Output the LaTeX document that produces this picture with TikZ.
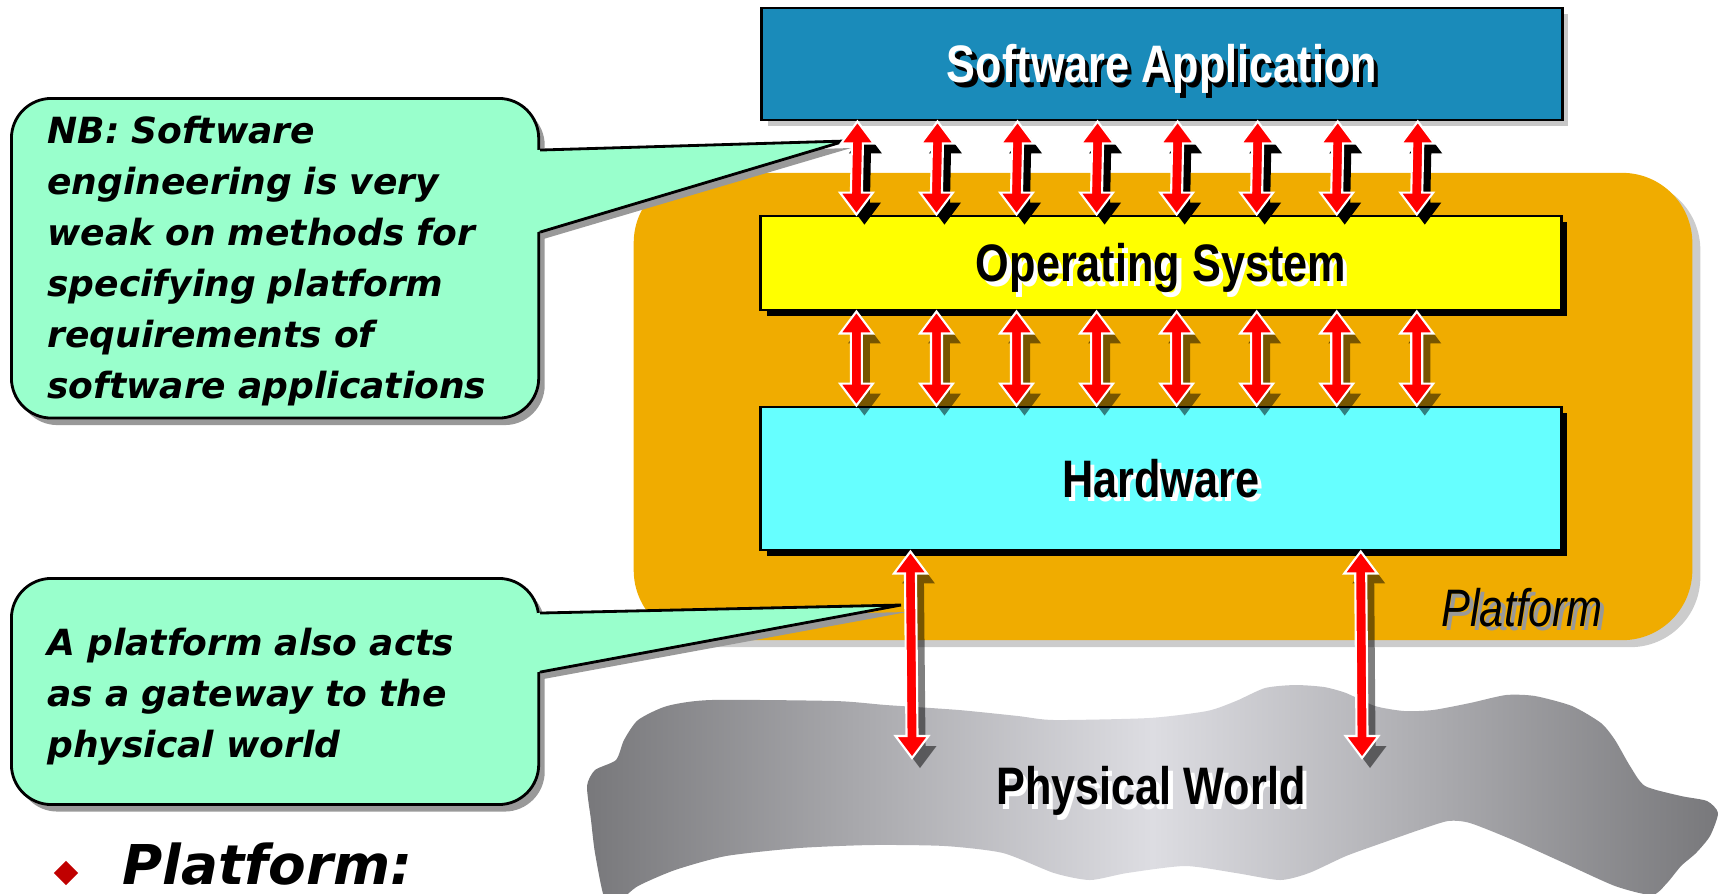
\documentclass[tikz,border=0pt]{standalone}
\usepackage{fontspec}
\usetikzlibrary{calc,shadows,shapes.geometric}
\newfontfamily\boxfont[FakeStretch=0.82]{Liberation Sans}
\newfontfamily\notefont{DejaVu Sans}
\definecolor{appblue}{RGB}{26,139,186}
\definecolor{platorange}{RGB}{240,172,0}
\definecolor{osyellow}{RGB}{255,255,0}
\definecolor{hwcyan}{RGB}{102,255,255}
\definecolor{notegreen}{RGB}{153,255,204}
\definecolor{bulletred}{RGB}{192,0,0}
\definecolor{worldlight}{RGB}{221,221,226}
\definecolor{worlddark}{RGB}{120,120,123}
\newcommand{\shadowtext}[3]{\makebox[0pt][l]{\hspace*{1.2pt}\raisebox{-1.2pt}{\textcolor{#1}{#3}}}\textcolor{#2}{#3}}
\begin{document}
\begin{tikzpicture}[x=0.01cm, y=-0.01cm,
                    layer/.style={
                        draw=black, line width=0.8pt,
                        inner sep=0pt, minimum width=8cm,
                        font=\boxfont\bfseries\fontsize{15}{18}\selectfont,
                        text height=10.7pt, text depth=0pt},
                    bubble/.style={
                        draw=black, line width=0.8pt, fill=notegreen,
                        rounded corners=0.4cm, anchor=north west,
                        minimum width=5.27cm, text width=4.55cm,
                        inner xsep=0.36cm, align=left,
                        font=\notefont\bfseries\itshape\fontsize{10.25}{14.5}\selectfont,
                        drop shadow={shadow xshift=0.06cm, shadow yshift=-0.07cm, fill=black!40, opacity=1}},
                    dblarrow/.style={
                        fill=red, draw=white, line width=0.6pt, line join=miter,
                        to path={-- ($(\tikztostart)+(16.5,22)$) -- ($(\tikztostart)+(5.5,22)$)
                                 -- ($(\tikztotarget)+(5.5,-22)$) -- ($(\tikztotarget)+(16.5,-22)$)
                                 -- (\tikztotarget) -- ($(\tikztotarget)+(-16.5,-22)$)
                                 -- ($(\tikztotarget)+(-5.5,-22)$) -- ($(\tikztostart)+(-5.5,22)$)
                                 -- ($(\tikztostart)+(-16.5,22)$) -- cycle}},
                    label/.style={inner sep=0pt, text height=10.7pt, text depth=0pt}]
                        \useasboundingbox (0,0) rectangle (1719,893);
                        \node [fill=platorange, rounded corners=0.7cm, minimum width=10.58cm, minimum height=4.67cm,
                               drop shadow={shadow xshift=0.08cm, shadow yshift=-0.07cm, fill=black!20, opacity=1}] (plat) at (1163,406.5) {};
                        \node [label, font=\boxfont\itshape\fontsize{15}{18}\selectfont] (platlabel) at (1522,607.5) {\shadowtext{black!40}{black}{Platform}};
                        \shade [left color=worlddark, right color=worlddark, middle color=worldlight]
                            plot [smooth cycle, tension=0.4] coordinates {(605,900) (595,853) (591,820) (587,786) (595,770) (616,760) (624,740) (638,720) (667,706) (711,700) (835,701) (886,705) (959,710) (1018,716) (1054,720) (1149,718) (1207,711) (1236,701) (1265,688) (1295,685) (1324,687) (1346,693) (1375,706) (1404,711) (1433,710) (1470,703) (1506,695) (1535,696) (1572,706) (1601,723) (1615,740) (1630,766) (1645,786) (1681,796) (1707,801) (1718,813) (1710,836) (1696,853) (1681,866) (1667,883) (1652,895) (1615,886) (1564,863) (1513,840) (1470,823) (1448,821) (1419,830) (1382,843) (1346,856) (1309,873) (1280,880) (1236,873) (1185,866) (1127,873) (1090,880) (1054,873) (1003,853) (945,846) (872,845) (799,848) (726,856) (675,870) (638,886) (620,900)};
                        \node [label, font=\boxfont\bfseries\fontsize{15}{18}\selectfont] (world) at (1151,786) {\shadowtext{white}{black}{Physical World}};
                        \node [layer, fill=appblue, minimum height=1.12cm,
                               drop shadow={shadow xshift=0.06cm, shadow yshift=-0.06cm, fill=black!22, opacity=1}] (sa) at (1162,64) {\shadowtext{black}{white}{Software Application}};
                        \node [layer, fill=osyellow, minimum height=0.94cm,
                               drop shadow={shadow xshift=0.06cm, shadow yshift=-0.06cm, fill=black, opacity=1}] (os) at (1161,263) {\shadowtext{white}{black}{Operating System}};
                        \node [layer, fill=hwcyan, minimum height=1.43cm,
                               drop shadow={shadow xshift=0.06cm, shadow yshift=-0.06cm, fill=black, opacity=1}] (hw) at (1161,478.5) {\shadowtext{white}{black}{Hardware}};
                        \node [bubble, minimum height=3.16cm] (nb) at (10,97) {\rule{0pt}{9.6pt}NB: Software\\engineering is very\\weak on methods for\\specifying platform\\requirements of\\software applications};
                        \coordinate (nbtip) at (845,141);
                        \fill [notegreen, drop shadow={shadow xshift=0.06cm, shadow yshift=-0.07cm, fill=black!40, opacity=1}]
                            ([xshift=-0.03cm, yshift=-0.53cm]nb.north east) -- (nbtip) -- ([xshift=-0.03cm, yshift=-1.35cm]nb.north east) -- cycle;
                        \draw [line width=0.8pt] ([yshift=-0.53cm]nb.north east) -- (nbtip) -- ([yshift=-1.35cm]nb.north east);
                        \node [bubble, minimum height=2.26cm] (gw) at (10,577) {\rule{0pt}{10.6pt}A platform also acts\\as a gateway to the\\physical world};
                        \coordinate (gwtip) at (901,605);
                        \fill [notegreen, drop shadow={shadow xshift=0.06cm, shadow yshift=-0.07cm, fill=black!40, opacity=1}]
                            ([xshift=-0.03cm, yshift=-0.36cm]gw.north east) -- (gwtip) -- ([xshift=-0.03cm, yshift=-0.95cm]gw.north east) -- cycle;
                        \draw [line width=0.8pt] ([yshift=-0.36cm]gw.north east) -- (gwtip) -- ([yshift=-0.95cm]gw.north east);
                        \foreach \i in {0,...,7} {
                            \draw [dblarrow, drop shadow={shadow xshift=0.08cm, shadow yshift=-0.1cm, fill=black, opacity=1}]
                                ([xshift=0.97cm+\i*0.8cm]sa.south west) to ([xshift=0.97cm+\i*0.8cm]os.north west);
                            \draw [dblarrow, drop shadow={shadow xshift=0.08cm, shadow yshift=-0.1cm, fill=black, opacity=0.5}]
                                ([xshift=0.97cm+\i*0.8cm]os.south west) to ([xshift=0.97cm+\i*0.8cm]hw.north west);
                        }
                        \coordinate (w1) at (912,758);
                        \coordinate (w2) at (1362,758);
                        \draw [dblarrow, drop shadow={shadow xshift=0.08cm, shadow yshift=-0.1cm, fill=black, opacity=0.5}] ([xshift=1.51cm]hw.south west) to (w1);
                        \draw [dblarrow, drop shadow={shadow xshift=0.08cm, shadow yshift=-0.1cm, fill=black, opacity=0.5}] ([xshift=6.01cm]hw.south west) to (w2);
                        \node [diamond, fill=bulletred, minimum width=0.25cm, minimum height=0.25cm, inner sep=0pt] (bullet) at (66,873) {};
                        \node [anchor=base west, inner sep=0pt, font=\notefont\bfseries\itshape\fontsize{15.6}{18}\selectfont] (platdef) at (122,884) {Platform:};
                \end{tikzpicture}
\end{document}
